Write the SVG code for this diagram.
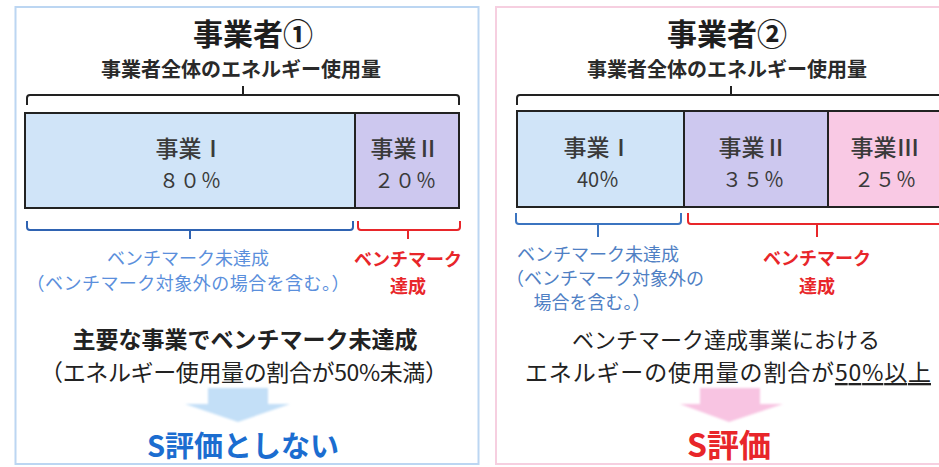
<svg xmlns="http://www.w3.org/2000/svg" width="939" height="467" viewBox="0 0 939 467">
<defs>
<filter id="soft" x="-20%" y="-20%" width="140%" height="140%"><feGaussianBlur stdDeviation="1.3"/></filter>
<style>
text{font-family:"Noto Sans CJK JP","Noto Sans",sans-serif;text-anchor:middle}
.title{font-size:30px;font-weight:bold;fill:#1e1e1e}
.sub{font-size:20px;font-weight:bold;fill:#2a2a2a}
.seg{font-size:23px;font-weight:500;fill:#3a3a3a}
.pct{font-size:20px;fill:#3a3a3a}
.bar{stroke:#222;stroke-width:2}
.brk{fill:none;stroke:#222;stroke-width:2}
.bb{fill:none;stroke:#2f63b2;stroke-width:2}
.rb{fill:none;stroke:#e8262a;stroke-width:2}
.bt{font-size:18px;fill:#5b8fdc}
.bt2{font-size:18px;fill:#4f80c4}
.rt{font-size:18px;font-weight:bold;fill:#e8262a}
.main{font-size:23px;fill:#222}
.mainb{font-size:23px;font-weight:bold;fill:#222}
</style>
</defs>
<rect width="939" height="467" fill="#ffffff"/>
<g id="panel1">
<rect x="15.5" y="7" width="463" height="457" fill="#ffffff" stroke="#bcd6f2" stroke-width="2"/>
<text class="title" x="253" y="45">事業者①</text>
<text class="sub" x="241" y="77">事業者全体のエネルギー使用量</text>
</g>
<g id="panel2">
<rect x="496" y="7" width="460" height="457" fill="#ffffff" stroke="#f6cfe0" stroke-width="2"/>
<text class="title" x="727" y="45">事業者②</text>
<text class="sub" x="727" y="77">事業者全体のエネルギー使用量</text>
</g>
<g id="p1-seg1">
<rect class="bar" x="25" y="113" width="330" height="95" fill="#d0e4f8"/>
<text class="seg" x="190" y="157">事業Ⅰ</text>
<text class="pct" x="190" y="188" textLength="62">８０％</text>
</g>
<g id="p1-seg2">
<rect class="bar" x="355" y="113" width="104" height="95" fill="#cdc8ef"/>
<text class="seg" x="405" y="157">事業Ⅱ</text>
<text class="pct" x="405" y="188" textLength="62">２０％</text>
</g>
<g id="p2-seg1">
<rect class="bar" x="517" y="111" width="167" height="96" fill="#d0e4f8"/>
<text class="seg" x="598" y="156">事業Ⅰ</text>
<text class="pct" x="598" y="187">40％</text>
</g>
<g id="p2-seg2">
<rect class="bar" x="684" y="111" width="144" height="96" fill="#cdc8ef"/>
<text class="seg" x="753" y="156">事業Ⅱ</text>
<text class="pct" x="753" y="187" textLength="62">３５％</text>
</g>
<g id="p2-seg3">
<rect class="bar" x="828" y="111" width="130" height="96" fill="#f9c9e4"/>
<text class="seg" x="885" y="156">事業Ⅲ</text>
<text class="pct" x="885" y="187" textLength="62">２５％</text>
</g>
<g id="p1-notmet">
<text class="bt" x="188" y="265">ベンチマーク未達成</text>
<text class="bt" x="188" y="290" textLength="323">（ベンチマーク対象外の場合を含む。）</text>
</g>
<g id="p1-met">
<text class="rt" x="408" y="266">ベンチマーク</text>
<text class="rt" x="408" y="293">達成</text>
</g>
<g id="p1-result">
<text class="mainb" x="245" y="348">主要な事業でベンチマーク未達成</text>
<text class="main" x="244" y="381" textLength="408">（エネルギー使用量の割合が50%未満）</text>
<text x="243" y="457" style="font-size:29px;font-weight:bold;fill:#1b6dd0">S評価としない</text>
</g>
<g id="p2-notmet">
<text class="bt2" x="598" y="261">ベンチマーク未達成</text>
<text class="bt2" x="605" y="285">（ベンチマーク対象外の</text>
<text class="bt2" x="592" y="309">場合を含む。）</text>
</g>
<g id="p2-met">
<text class="rt" x="817" y="265">ベンチマーク</text>
<text class="rt" x="817" y="293">達成</text>
</g>
<g id="p2-result">
<text class="main" x="726" y="348" style="font-size:22px">ベンチマーク達成事業における</text>
<text class="main" x="728" y="381" textLength="406">エネルギーの使用量の割合が<tspan text-decoration="underline">50%以上</tspan></text>
<text x="729" y="457" style="font-size:32px;font-weight:bold;fill:#e8262a">S評価</text>
</g>
<g id="connectors">
<path class="brk" d="M27,105 V98 Q27,95 30,95 H456 Q459,95 459,98 V105 M243,95 V86"/>
<path class="brk" d="M517,105 V98 Q517,95 520,95 H945 M731,95 V86"/>
<path class="bb" d="M27,221 V227 Q27,230 30,230 H350 Q353,230 353,227 V221 M190,230 V239"/>
<path class="rb" d="M358,221 V227 Q358,230 361,230 H457 Q460,230 460,227 V221 M408,230 V239"/>
<path class="bb" d="M516,213 V221 Q516,224 519,224 H678 Q681,224 681,221 V213 M598,224 V237" style="stroke:#3b74c0"/>
<path class="rb" d="M688,213 V221 Q688,224 691,224 H945 M817,224 V237"/>
<polygon points="208,388 268,388 268,404 290,404 238,422 185,404 208,404" fill="#c3dff7" filter="url(#soft)"/>
<polygon points="700,388 760,388 760,404 783,404 729,422 680,404 700,404" fill="#f8c4e2" filter="url(#soft)"/>
</g>
</svg>
